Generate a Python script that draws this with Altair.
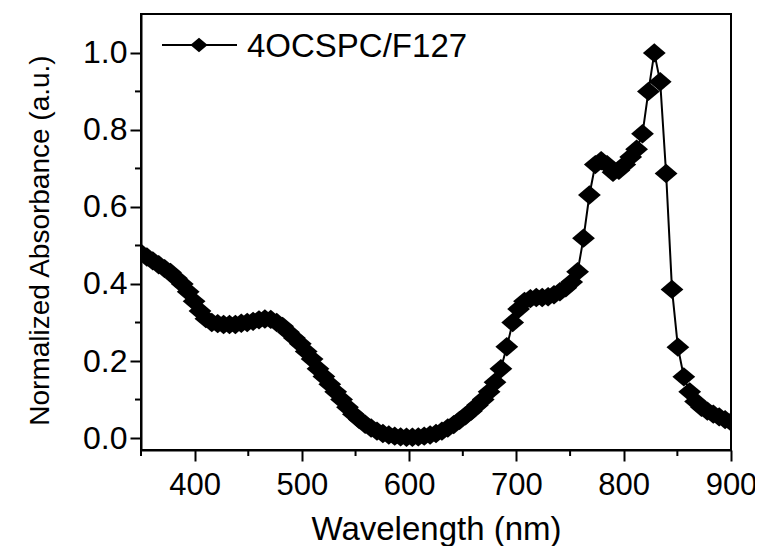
import altair as alt
import pandas as pd

series_name = "4OCSPC/F127"

wavelength = [
    350.0, 355.5, 361.0, 366.5, 372.0, 377.5, 383.0, 388.5, 394.0, 399.5,
    405.0, 410.5, 416.0, 421.5, 427.0, 432.5, 438.0, 443.5, 449.0, 454.5,
    460.0, 465.5, 471.0, 476.5, 482.0, 487.5, 493.0, 498.5, 504.0, 509.5,
    515.0, 520.5, 526.0, 531.5, 537.0, 542.5, 548.0, 553.5, 559.0, 564.5,
    570.0, 575.5, 581.0, 586.5, 592.0, 597.5, 603.0, 608.5, 614.0, 619.5,
    625.0, 630.5, 636.0, 641.5, 647.0, 652.5, 658.0, 663.5, 669.0, 674.5,
    680.0, 685.5, 691.0, 696.5, 702.0, 707.5, 713.0, 718.5, 724.0, 729.5,
    735.0, 740.5, 746.0, 751.5, 757.0, 762.5, 768.0, 773.5, 779.0, 784.5,
    790.0, 795.5, 801.0, 806.5, 812.0, 817.5, 823.0, 828.5, 834.0, 839.5,
    845.0, 850.5, 856.0, 861.5, 867.0, 872.5, 878.0, 883.5, 889.0, 894.5,
    900.0,
]

absorbance = [
    0.480, 0.470, 0.460, 0.450, 0.440, 0.430, 0.415, 0.400, 0.380, 0.355,
    0.330, 0.310, 0.300, 0.297, 0.295, 0.295, 0.295, 0.298, 0.300, 0.303,
    0.307, 0.309, 0.308, 0.300, 0.290, 0.275, 0.260, 0.245, 0.225, 0.205,
    0.180, 0.160, 0.140, 0.120, 0.100, 0.080, 0.062, 0.048, 0.036, 0.026,
    0.018, 0.012, 0.008, 0.005, 0.003, 0.002, 0.002, 0.003, 0.005, 0.008,
    0.012, 0.018, 0.026, 0.035, 0.046, 0.058, 0.070, 0.085, 0.100, 0.120,
    0.145, 0.180, 0.237, 0.300, 0.335, 0.355, 0.362, 0.365, 0.365, 0.367,
    0.372, 0.380, 0.390, 0.405, 0.432, 0.519, 0.631, 0.710, 0.720, 0.710,
    0.690, 0.695, 0.710, 0.730, 0.750, 0.790, 0.900, 1.000, 0.925, 0.687,
    0.386, 0.236, 0.159, 0.120, 0.095, 0.080, 0.070, 0.062, 0.055, 0.048,
    0.042,
]

x_major = [400, 500, 600, 700, 800, 900]
x_minor = [350, 450, 550, 650, 750, 850]
y_major = [0.0, 0.2, 0.4, 0.6, 0.8, 1.0]
y_minor = [0.1, 0.3, 0.5, 0.7, 0.9]

df = pd.DataFrame({"wavelength": wavelength, "absorbance": absorbance, "series": series_name})
df_xminor = pd.DataFrame({"v": x_minor})
df_yminor = pd.DataFrame({"v": y_minor})

W, H = 590, 436
FONT = "Liberation Sans"
DIAMOND = "M-1,0L0,-0.85L1,0L0,0.85Z"

x_scale = alt.Scale(domain=[350, 900], nice=False, zero=False)
y_scale = alt.Scale(domain=[-0.031, 1.101], nice=False, zero=False)

x_axis = alt.Axis(
    values=x_major, format="d", title="Wavelength (nm)", tickSize=11, labelPadding=9,
    labelFontSize=31, titleFontSize=33, labelFont=FONT, titleFont=FONT,
    titleFontWeight="normal", titleBaseline="alphabetic", titleY=89,
    labelFlush=False, grid=False,
)
y_axis = alt.Axis(
    values=y_major, format=".1f", title="Normalized Absorbance (a.u.)", tickSize=11,
    labelPadding=3, labelFontSize=32, titleFontSize=28, labelFont=FONT, titleFont=FONT,
    titleFontWeight="normal", titleAngle=-90, titleBaseline="alphabetic",
    titleAlign="center", titleX=-93, titleY=226, labelFlush=False, grid=False,
)

base = alt.Chart(df)
line = base.mark_line(color="black", strokeWidth=2, clip=True).encode(
    x=alt.X("wavelength:Q", scale=x_scale, axis=x_axis),
    y=alt.Y("absorbance:Q", scale=y_scale, axis=y_axis),
)
points = base.mark_point(
    shape=DIAMOND, filled=True, color="black", opacity=1, size=520, clip=True
).encode(
    x=alt.X("wavelength:Q", scale=x_scale),
    y=alt.Y("absorbance:Q", scale=y_scale),
)

xminor = alt.Chart(df_xminor).mark_rule(color="black", strokeWidth=2).encode(
    x=alt.X("v:Q", scale=x_scale),
    y=alt.value(H),
    y2=alt.value(H + 6),
)
yminor = alt.Chart(df_yminor).mark_rule(color="black", strokeWidth=2).encode(
    y=alt.Y("v:Q", scale=y_scale),
    x=alt.value(-6),
    x2=alt.value(0),
)

leg_line = alt.Chart(df.head(1)).mark_rule(color="black", strokeWidth=2).encode(
    x=alt.value(21), x2=alt.value(96), y=alt.value(31)
)
leg_point = alt.Chart(df.head(1)).mark_point(
    shape=DIAMOND, filled=True, color="black", opacity=1, size=300
).encode(x=alt.value(58), y=alt.value(31))
leg_text = alt.Chart(df.head(1)).mark_text(
    align="left", baseline="middle", fontSize=33, font=FONT, color="black"
).encode(x=alt.value(106), y=alt.value(33), text="series:N")

chart = alt.layer(line, points, xminor, yminor, leg_line, leg_point, leg_text).properties(
    width=W, height=H,
    autosize=alt.AutoSizeParams(type="none"),
    padding={"left": 133, "top": 6, "right": 24, "bottom": 96},
    background="white",
).configure_view(
    stroke="black", strokeWidth=2
).configure_axis(
    domainColor="black", domainWidth=2, tickColor="black", tickWidth=2,
    labelColor="black", titleColor="black",
)

chart.save("out.html", embed_options={"renderer": "svg", "actions": False})
